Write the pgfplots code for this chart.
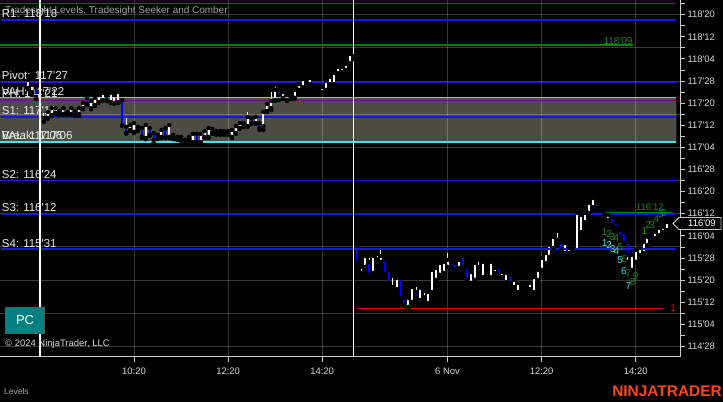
\documentclass[border=0pt]{standalone}
\usepackage{fontspec}
\setmainfont{Liberation Sans}
\usepackage{pgfplots}
\pgfplotsset{compat=1.18}
\usepackage{pgfplotstable}

\definecolor{axgray}{RGB}{200,200,200}
\definecolor{ticktxt}{RGB}{215,215,215}
\definecolor{lbltxt}{RGB}{235,235,235}
\definecolor{titlegray}{RGB}{165,165,165}
\definecolor{lvlblue}{RGB}{20,20,255}
\definecolor{candblue}{RGB}{0,0,255}
\definecolor{cyn}{RGB}{70,225,225}
\definecolor{purp}{RGB}{128,0,128}
\definecolor{grn}{RGB}{0,128,0}
\definecolor{grntxt}{RGB}{30,140,30}
\definecolor{boxfill}{RGB}{76,75,68}
\definecolor{pcteal}{RGB}{0,128,128}
\definecolor{logo}{RGB}{255,70,20}

\newcommand{\q}{\textquotesingle}
\tikzset{
  lbl/.style={font=\fontsize{11.5}{13}\selectfont, text=lbltxt, inner sep=0pt, anchor=base west, xshift=1.7bp, yshift=2.5bp},
  num/.style={font=\fontsize{10}{11}\selectfont, inner sep=0pt},
}
\pgfplotsset{
  gridln/.style={white, draw opacity=0.22, line width=1bp},
  lvl/.style={line width=1.4bp},
  candle/.style={only marks, mark=none, error bars/.cd, y dir=plus, y explicit, error mark=none,
    error bar style={#1}},
}

% 5-minute bars, price in 32nds above 114'00
\pgfplotstableread{
i o h l c
-3 121.5 125.0 121.0 124.4
-2 120.0 123.3 118.9 122.6
-1 121.5 122.0 117.5 118.2
1 109.5 112.4 109.2 110.6
2 110.6 113.2 110.3 112.8
3 111.7 114.6 111.4 114.2
4 112.4 114.6 112.0 114.2
5 113.2 113.8 111.7 112.1
6 112.1 114.6 111.7 114.2
7 112.8 113.5 111.7 112.1
8 112.1 114.6 111.7 114.2
9 113.2 113.8 111.4 111.7
10 112.1 114.6 111.4 114.2
11 114.2 116.4 113.8 116.1
12 117.9 118.2 115.3 115.7
13 114.2 117.1 113.8 116.8
14 115.3 118.2 115.0 117.9
15 116.4 119.3 116.1 118.9
16 117.1 120.0 116.8 119.7
17 117.1 119.3 116.8 118.6
18 116.4 120.0 116.1 119.7
19 116.1 119.3 115.7 118.9
20 116.4 120.4 116.1 120.0
21 117.1 117.5 107.7 108.1
22 107.4 110.6 104.9 105.2
23 106.3 108.5 105.9 108.1
24 105.6 109.2 105.2 108.8
25 106.3 107.7 105.9 107.4
26 107.0 107.4 103.4 103.8
27 103.4 108.5 103.0 108.1
28 107.0 107.4 104.1 104.5
29 105.2 105.6 101.6 102.7
30 103.4 104.9 103.0 104.5
31 103.8 106.7 103.4 106.3
32 107.0 107.4 103.4 103.8
33 103.8 108.5 103.4 108.1
34 103.4 104.9 103.0 104.5
35 103.0 104.1 102.7 103.8
36 103.8 104.1 102.3 102.7
37 101.6 103.0 101.2 102.7
38 102.7 104.1 102.3 103.8
39 101.9 105.2 101.6 104.9
40 104.9 105.2 101.6 101.9
41 101.9 105.2 101.6 104.9
42 103.8 106.3 103.4 105.9
43 103.8 107.4 103.4 107.0
44 105.2 107.0 104.9 106.7
45 104.9 106.3 104.5 105.9
46 105.9 106.3 104.5 104.9
47 104.9 106.3 104.5 105.9
48 105.9 106.3 104.5 104.9
49 103.8 106.7 103.4 106.3
50 105.2 108.1 104.9 107.7
51 107.0 109.2 106.7 108.8
52 107.7 109.2 107.4 108.8
53 107.7 112.8 107.4 111.0
54 110.6 111.0 108.5 108.8
55 108.8 111.4 108.5 111.0
56 108.8 109.2 106.3 107.0
57 107.7 113.2 106.3 112.8
58 113.2 116.1 112.8 115.7
59 114.2 120.0 113.5 116.8
60 117.1 121.8 116.8 120.8
61 120.8 121.1 117.1 118.9
62 117.9 120.4 117.5 120.0
63 117.1 119.3 116.8 118.9
64 117.9 119.3 117.5 118.9
65 117.9 121.1 117.5 120.8
66 120.8 123.3 120.4 122.9
67 121.8 125.1 121.5 124.7
68 124.4 125.1 121.8 123.3
69 122.9 125.5 122.6 125.1
70 121.8 122.2 120.4 120.8
71 121.5 121.8 119.7 120.0
72 120.0 122.2 119.7 121.8
73 120.8 124.4 120.4 124.0
74 122.9 125.8 122.6 125.5
75 122.9 127.3 122.6 126.9
76 126.9 129.5 126.5 129.1
77 127.3 129.8 126.9 129.1
78 128.0 130.5 127.6 130.2
79 130.5 134.5 130.2 133.8
80 132.3 133.5 132.0 133.0
81 64.7 65.1 57.8 58.2
82 58.2 58.6 54.6 56.8
83 56.8 61.1 56.4 60.7
84 58.6 60.0 52.8 53.9
85 54.6 61.1 54.2 60.7
86 59.6 60.7 58.2 58.6
87 58.6 63.6 58.2 60.7
88 59.6 60.0 53.9 54.2
89 55.7 56.0 50.6 51.0
90 49.5 52.8 48.8 49.2
91 48.8 53.1 48.4 52.8
92 52.8 53.1 45.1 45.5
93 45.5 45.8 42.6 43.0
94 42.3 45.8 41.6 45.5
95 44.1 49.9 43.7 49.5
96 47.7 49.5 44.1 45.5
97 44.8 49.5 44.4 49.2
98 45.8 47.4 44.1 44.8
99 43.7 48.1 43.4 47.7
100 47.7 56.0 47.4 55.7
101 52.1 56.8 51.7 56.4
102 53.9 58.6 53.5 58.2
103 54.6 59.0 54.2 58.6
104 56.8 61.8 56.4 59.3
105 58.6 59.0 56.4 56.8
106 58.2 58.6 55.3 55.7
107 56.4 59.6 56.0 59.3
108 60.7 61.1 56.4 56.8
109 56.8 57.1 51.7 52.1
110 51.0 55.3 50.6 54.9
111 52.1 58.6 51.7 58.2
112 56.8 58.6 54.9 56.0
113 53.1 59.0 52.8 58.6
114 56.8 57.1 55.3 55.7
115 53.1 59.0 52.8 58.6
116 54.6 56.8 54.2 56.4
117 56.8 57.1 53.5 53.9
118 53.1 55.3 52.8 54.9
119 51.3 54.9 51.0 54.6
120 53.9 54.2 50.6 51.0
121 49.5 52.4 49.2 52.1
122 47.7 51.3 47.4 51.0
123 50.6 51.0 49.2 49.5
124 49.2 51.0 48.8 50.6
125 48.8 51.3 48.4 51.0
126 47.7 53.5 47.4 53.1
127 52.1 56.0 51.7 55.7
128 55.7 60.4 55.3 60.0
129 58.2 62.2 57.8 61.8
130 60.4 65.1 60.0 64.7
131 63.6 68.0 63.3 67.6
132 66.5 69.0 64.7 65.4
133 65.8 66.1 61.8 62.9
134 61.8 65.8 61.5 65.4
135 61.8 64.0 61.5 63.6
136 62.2 64.0 61.8 63.6
137 62.2 76.7 61.8 76.3
138 69.4 76.0 69.0 75.6
139 73.0 76.7 72.7 76.3
140 76.3 80.3 76.0 79.9
141 78.4 82.1 78.1 81.7
142 79.9 80.3 77.7 78.1
143 77.4 77.7 74.5 74.8
144 74.5 76.3 74.1 75.9
145 73.7 76.0 73.3 75.6
146 74.8 75.2 71.6 71.9
147 73.0 73.3 70.5 70.9
148 70.1 70.5 67.2 67.6
149 69.4 69.7 65.1 65.4
150 65.8 66.1 58.6 61.1
151 55.7 61.5 55.3 61.1
152 58.6 63.3 58.2 62.9
153 61.1 64.0 60.7 63.6
154 61.8 66.1 61.5 65.8
155 64.7 68.0 64.3 67.6
156 67.6 68.0 65.4 65.8
157 67.2 69.7 66.9 69.4
158 68.3 71.2 68.0 70.9
159 69.4 71.6 69.0 71.2
160 70.1 73.3 69.7 73.0
}\bars

\begin{document}
\begin{tikzpicture}
\useasboundingbox (0,0) rectangle (723bp,402bp);
\fill[black] (0,0) rectangle (723bp,402bp);
\begin{axis}[
  at={(0bp,402bp)}, anchor=north west,
  scale only axis, width=680bp, height=356.7bp,
  xmin=-10.2, xmax=163.3, ymin=24.3, ymax=153.3,
  axis x line*=bottom, axis y line*=right,
  axis line style={-, draw=axgray, line width=1bp},
  tick align=outside,
  major tick length=5bp, minor tick length=5bp,
  tick style={axgray, line width=0.8bp},
  xtick={24,48,72,104,128,152},
  xticklabels={10:20,12:20,14:20,6 Nov,12:20,14:20},
  ytick={28,36,...,148},
  yticklabels={114\q28,115\q04,115\q12,115\q20,115\q28,116\q04,116\q12,116\q20,116\q28,117\q04,117\q12,117\q20,117\q28,118\q04,118\q12,118\q20},
  minor ytick={32,40,...,152},
  ticklabel style={font=\fontsize{9.5}{11}\selectfont, text=ticktxt},
  yticklabel style={anchor=west, xshift=-1bp},
  xticklabel style={yshift=-3bp},
]
% value area box
\addplot[draw=none, fill=boxfill]
  coordinates {(-10.2,118) (162.4,118) (162.4,102) (-10.2,102) (-10.2,118)};

% grid
\pgfplotsinvokeforeach{28,40,52,64,76,88,100,112,124,136,148}{
  \addplot[gridln] coordinates {(-10.2,#1) (163.3,#1)};
}
\pgfplotsinvokeforeach{24,48,72,104,128,152}{
  \addplot[gridln] coordinates {(#1,24.3) (#1,153.3)};
}

% level lines
\addplot[lvl, purp] coordinates {(-10.2,152.1) (162.4,152.1)};
\addplot[lvl, lvlblue] coordinates {(-9.9,146) (162.4,146)};
\addplot[lvl, grn] coordinates {(-10.2,137) (151.2,137)};
\addplot[lvl, lvlblue] coordinates {(-9.9,123.5) (162.4,123.5)};
\addplot[lvl, cyn] coordinates {(-10.2,118) (162.4,118)};
\addplot[lvl, purp] coordinates {(-10.2,117) (162.4,117)};
\addplot[lvl, lvlblue] coordinates {(-9.9,111) (162.4,111)};
\addplot[lvl, cyn] coordinates {(-10.2,102) (162.4,102)};
\addplot[lvl, lvlblue] coordinates {(-9.9,88) (162.4,88)};
\addplot[red, line width=1.4bp] coordinates {(80.9,41.8) (158.9,41.8)};

% candles: wicks, then up bodies (white), then down bodies (blue)
\addplot[candle={white, line width=1bp}]
  table[x=i, y=l, y error plus expr={\thisrow{h}-\thisrow{l}}] {\bars};
\addplot[candle={white, line width=2bp}]
  table[x=i, y=o, y error plus expr={max(\thisrow{c}-\thisrow{o},0)}] {\bars};
\addplot[candle={candblue, line width=2bp}]
  table[x=i, y=c, y error plus expr={max(\thisrow{o}-\thisrow{c},0)}] {\bars};

% lower support levels
\addplot[lvlblue, line width=2bp] coordinates {(-9.9,76) (162.4,76)};
\addplot[grn, line width=1bp] coordinates {(144.1,76.55) (161.5,76.55)};
\addplot[lvlblue, line width=2bp] coordinates {(-9.9,63.1) (162.4,63.1)};

% session breaks
\addplot[white, line width=1.2bp] coordinates {(0,24.3) (0,153.3)};
\addplot[white, line width=1.2bp] coordinates {(79.9,24.3) (79.9,153.3)};

% level labels
\node[lbl] at (axis cs:-10.2,123.5) {Pivot: 117\q27};
\node[lbl] at (axis cs:-10.2,118) {VAH: 117\q22};
\node[lbl] at (axis cs:-10.2,117) {PH: 117\q21};
\node[lbl] at (axis cs:-10.2,111) {S1: 117\q15};
\node[lbl] at (axis cs:-10.2,102) {VAL: 117\q06};
\node[lbl] at (axis cs:-10.2,102) {Break: 117\q06};
\node[lbl] at (axis cs:-10.2,88) {S2: 116\q24};
\node[lbl] at (axis cs:-10.2,76) {S3: 116\q12};
\node[lbl] at (axis cs:-10.2,63) {S4: 115\q31};

\node[num, text=grntxt, anchor=base east, yshift=1bp] at (axis cs:151.2,137) {118\q09};
\node[num, text=grntxt, font=\fontsize{9.5}{11}\selectfont] at (axis cs:155.6,78.4) {116\q12};
\node[num, text=red, anchor=west] at (axis cs:160.8,41.9) {1};

% seeker / comber counts
\node[num, text=grntxt] at (axis cs:144.1,69.5) {1};
\node[num, text=grntxt] at (axis cs:145.2,68.7) {2};
\node[num, text=grntxt] at (axis cs:146.1,67.7) {3};
\node[num, text=grntxt] at (axis cs:147.1,67.1) {4};
\node[num, text=grntxt] at (axis cs:148.1,63.9) {5};
\node[num, text=grntxt] at (axis cs:149.1,59.5) {6};
\node[num, text=grntxt] at (axis cs:150.1,54.7) {7};
\node[num, text=grntxt] at (axis cs:151.2,51.4) {8};
\node[num, text=grntxt] at (axis cs:152.0,53.5) {9};
\node[num, text=cyn] at (axis cs:144.1,65.5) {1};
\node[num, text=cyn] at (axis cs:145.2,64.7) {2};
\node[num, text=cyn] at (axis cs:146.1,63.2) {3};
\node[num, text=cyn] at (axis cs:147.1,62.5) {4};
\node[num, text=cyn] at (axis cs:148.0,59.3) {5};
\node[num, text=cyn] at (axis cs:149.0,55.3) {6};
\node[num, text=cyn] at (axis cs:150.1,50.0) {7};
\node[num, text=grntxt] at (axis cs:154.2,69.9) {1};
\node[num, text=grntxt] at (axis cs:155.2,71.9) {2};
\node[num, text=grntxt] at (axis cs:156.2,71.9) {3};
\node[num, text=grntxt] at (axis cs:157.3,74.0) {4};
\node[num, text=grntxt] at (axis cs:158.4,75.8) {5};
\node[num, text=grntxt] at (axis cs:159.2,76.3) {6};
\end{axis}

\begin{scope}[x=1bp, y=-1bp, shift={(0bp,402bp)}]
\node[anchor=base west, inner sep=0pt, font=\fontsize{10}{12}\selectfont, text=titlegray] at (5,14) {Tradesight Levels, Tradesight Seeker and Comber};
\node[anchor=base west, inner sep=0pt, font=\fontsize{11.5}{13}\selectfont, text=lbltxt] at (1.7,18) {R1: 118\q18};
% last price marker
\draw[axgray, fill=black, line width=0.8bp] (673,223.5) -- (679,217.5) -- (721,217.5) -- (721,229.5) -- (679,229.5) -- cycle;
\node[anchor=west, inner sep=0pt, font=\fontsize{9.5}{11}\selectfont, text=white] at (688,223.5) {116\q09};
% PC button and footer
\draw[fill=pcteal, draw=gray!70!black, line width=0.8bp] (5.3,307.3) rectangle (44.7,333.3);
\node[font=\fontsize{13}{15}\selectfont, text=white] at (25,320.3) {PC};
\node[anchor=base west, inner sep=0pt, font=\fontsize{9.5}{11}\selectfont, text=ticktxt] at (5,346.5) {\textcopyright{} 2024 NinjaTrader, LLC};
\node[anchor=base west, inner sep=0pt, font=\fontsize{8.5}{10}\selectfont, text=titlegray] at (4,395) {Levels};
\node[anchor=base east, inner sep=0pt, font=\bfseries\fontsize{15.5}{17}\selectfont, text=logo] at (722,396.5) {NINJATRADER};
\end{scope}
\end{tikzpicture}
\end{document}
